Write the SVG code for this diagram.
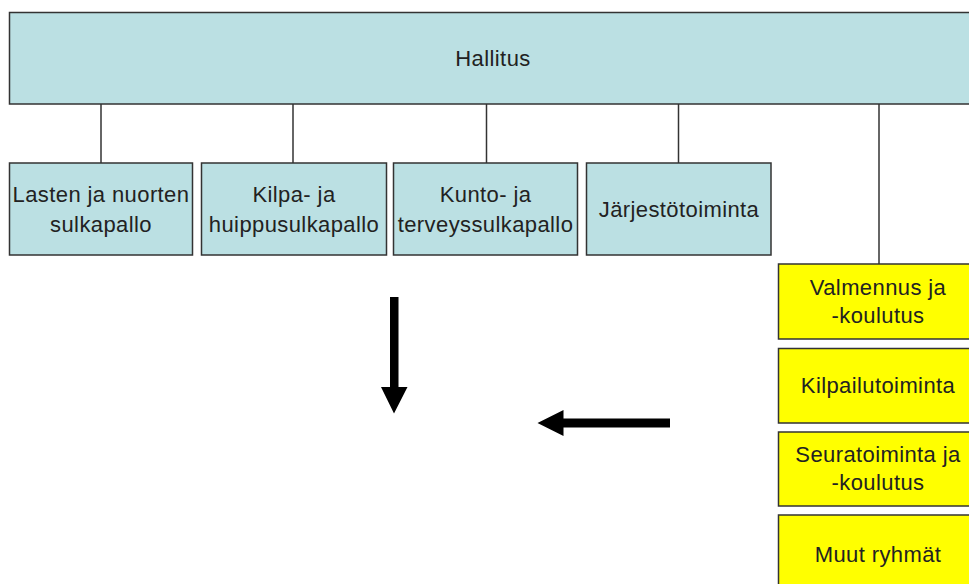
<svg xmlns="http://www.w3.org/2000/svg" width="969" height="584" viewBox="0 0 969 584">
<style>
.blue{fill:#BBE0E3;stroke:#333;stroke-width:1.5}
.yel{fill:#FFFF00;stroke:#333;stroke-width:1.5}
.t{font-family:"Liberation Sans",Arial,sans-serif;font-size:22px;letter-spacing:0.4px;fill:#222;text-anchor:middle}
.c{stroke:#333;stroke-width:1.5;fill:none}
</style>
<rect width="969" height="584" fill="#fff"/>
<g id="connectors">
<line class="c" x1="101" y1="104" x2="101" y2="163"/>
<line class="c" x1="293" y1="104" x2="293" y2="163"/>
<line class="c" x1="486.5" y1="104" x2="486.5" y2="163"/>
<line class="c" x1="678.5" y1="104" x2="678.5" y2="163"/>
<line class="c" x1="879" y1="104" x2="879" y2="264"/>
</g>
<g id="hallitus"><rect class="blue" x="9.5" y="12.5" width="980" height="91.5"/><text class="t" x="493" y="66">Hallitus</text></g>
<g id="lasten"><rect class="blue" x="9.5" y="163" width="183" height="92"/><text class="t" x="101" y="202">Lasten ja nuorten</text><text class="t" x="101" y="232">sulkapallo</text></g>
<g id="kilpa"><rect class="blue" x="201.5" y="163" width="185" height="92"/><text class="t" x="294" y="202">Kilpa- ja</text><text class="t" x="294" y="232">huippusulkapallo</text></g>
<g id="kunto"><rect class="blue" x="393.5" y="163" width="184" height="92"/><text class="t" x="485.5" y="202">Kunto- ja</text><text class="t" x="485.5" y="232">terveyssulkapallo</text></g>
<g id="jarjesto"><rect class="blue" x="586.5" y="163" width="184.5" height="92"/><text class="t" x="679" y="217">Järjestötoiminta</text></g>
<g id="valmennus"><rect class="yel" x="778.5" y="264" width="200" height="75"/><text class="t" x="878" y="295">Valmennus ja</text><text class="t" x="878" y="323">-koulutus</text></g>
<g id="kilpailu"><rect class="yel" x="778.5" y="348.5" width="200" height="74.5"/><text class="t" x="878" y="393">Kilpailutoiminta</text></g>
<g id="seura"><rect class="yel" x="778.5" y="432" width="200" height="74"/><text class="t" x="878" y="462">Seuratoiminta ja</text><text class="t" x="878" y="490">-koulutus</text></g>
<g id="muut"><rect class="yel" x="778.5" y="515" width="200" height="80"/><text class="t" x="878" y="562">Muut ryhmät</text></g>
<g id="arrows" fill="#000">
<polygon points="390,297 398.5,297 398.5,387 407.5,387 394,413.5 381,387 390,387"/>
<polygon points="670,418.5 563.5,418.5 563.5,410 537.5,423 563.5,436 563.5,427.5 670,427.5"/>
</g>
</svg>
